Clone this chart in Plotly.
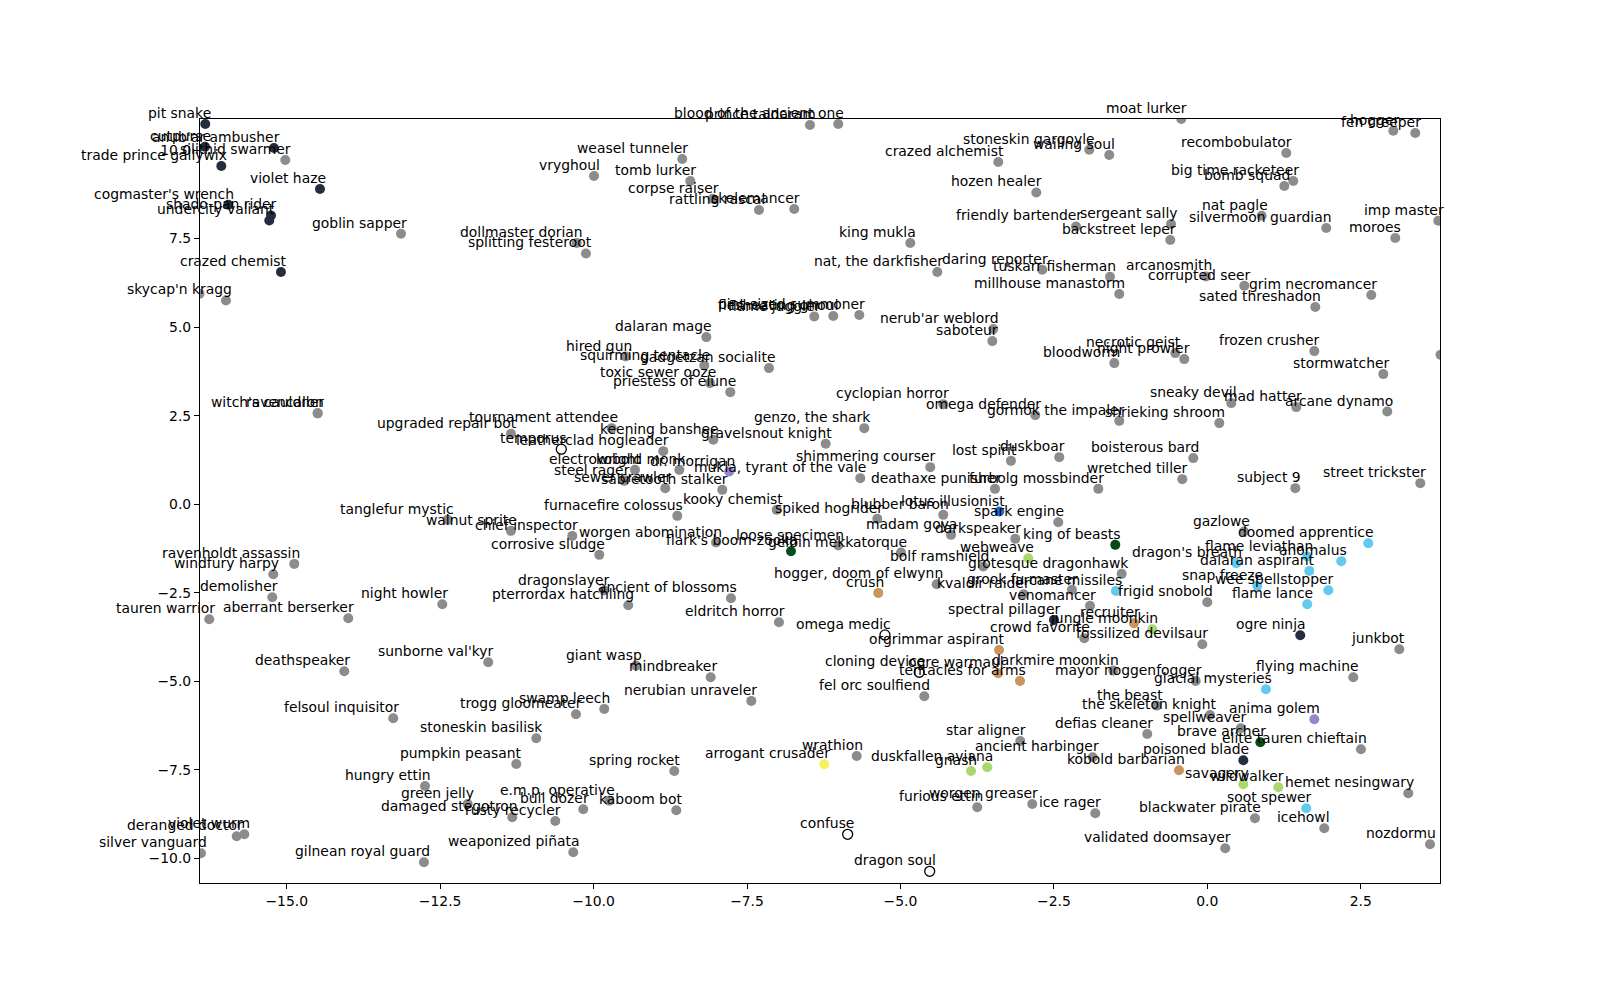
import plotly.graph_objects as go

card_names = [
    "pit snake", "cutpurse", "anub'ar ambusher", "silithid swarmer", "trade prince gallywix",
    "violet haze", "cogmaster's wrench", "shado-pan rider", "undercity valiant", "goblin sapper",
    "crazed chemist", "skycap'n kragg", "", "witch's cauldron", "ravencaller",
    "prince taldaram", "blood of the ancient one", "weasel tunneler", "vryghoul", "tomb lurker",
    "corpse raiser", "rattling rascal", "skelemancer", "dollmaster dorian", "splitting festeroot",
    "crazed alchemist", "stoneskin gargoyle", "wailing soul", "moat lurker", "recombobulator",
    "hogger", "fen creeper", "big time racketeer", "bomb squad", "hozen healer",
    "friendly bartender", "sergeant sally", "backstreet leper", "nat pagle", "silvermoon guardian",
    "imp master", "moroes", "king mukla", "nat, the darkfisher", "daring reporter",
    "tuskarr fisherman", "millhouse manastorm", "arcanosmith", "corrupted seer", "grim necromancer",
    "sated threshadon", "flame juggler", "flesheating ghoul", "pint-sized summoner", "nerub'ar weblord",
    "saboteur", "dalaran mage", "hired gun", "squirming tentacle", "gadgetzan socialite",
    "toxic sewer ooze", "priestess of elune", "necrotic geist", "night prowler", "bloodworm",
    "frozen crusher", "stormwatcher", "", "sneaky devil", "mad hatter",
    "arcane dynamo", "shrieking shroom", "cyclopian horror", "omega defender", "gormok the impaler",
    "genzo, the shark", "tournament attendee", "keening banshee", "gravelsnout knight", "upgraded repair bot",
    "temporus", "leatherclad hogleader", "electrowright", "kobold monk", "dr. morrigan",
    "mukla, tyrant of the vale", "steel rager", "sewer crawler", "sabretooth stalker", "shimmering courser",
    "lost spirit", "duskboar", "boisterous bard", "deathaxe punisher", "furbolg mossbinder",
    "wretched tiller", "subject 9", "street trickster", "tanglefur mystic", "walnut sprite",
    "chief inspector", "furnacefire colossus", "kooky chemist", "spiked hogrider", "blubber baron",
    "lotus illusionist", "spark engine", "madam goya", "darkspeaker", "king of beasts",
    "worgen abomination", "flark's boom-zooka", "loose specimen", "gelbin mekkatorque", "corrosive sludge",
    "bolf ramshield", "webweave", "grotesque dragonhawk", "gazlowe", "doomed apprentice",
    "flame leviathan", "anomalus", "dragon's breath", "dalaran aspirant", "snap freeze",
    "wee spellstopper", "flame lance", "frigid snobold", "arcane missiles", "grook fu master",
    "kvaldir raider", "venomancer", "hogger, doom of elwynn", "crush", "ravenholdt assassin",
    "windfury harpy", "demolisher", "tauren warrior", "aberrant berserker", "night howler",
    "dragonslayer", "pterrordax hatchling", "ancient of blossoms", "eldritch horror", "spectral pillager",
    "jungle moonkin", "recruiter", "omega medic", "crowd favorite", "fossilized devilsaur",
    "ogre ninja", "junkbot", "orgrimmar aspirant", "sunborne val'kyr", "giant wasp",
    "mindbreaker", "deathspeaker", "cloning device", "ogre warmaul", "tentacles for arms",
    "darkmire moonkin", "mayor noggenfogger", "flying machine", "glacial mysteries", "fel orc soulfiend",
    "nerubian unraveler", "swamp leech", "trogg gloomeater", "felsoul inquisitor", "stoneskin basilisk",
    "the beast", "the skeleton knight", "spellweaver", "anima golem", "defias cleaner",
    "brave archer", "elite tauren chieftain", "star aligner", "ancient harbinger", "pumpkin peasant",
    "wrathion", "arrogant crusader", "duskfallen aviana", "gnash", "spring rocket",
    "kobold barbarian", "poisoned blade", "savagery", "wildwalker", "hemet nesingwary",
    "hungry ettin", "green jelly", "e.m.p. operative", "bull dozer", "kaboom bot",
    "damaged stegotron", "rusty recycler", "furious ettin", "worgen greaser", "ice rager",
    "soot spewer", "blackwater pirate", "icehowl", "deranged doctor", "violet wurm",
    "silver vanguard", "confuse", "weaponized piñata", "validated doomsayer", "nozdormu",
    "gilnean royal guard", "dragon soul",
]

card_x = [
    -16.327, -16.332, -15.208, -15.023, -16.066,
    -14.458, -15.952, -15.256, -15.284, -13.138,
    -15.094, -15.990, -16.42, -14.496, -14.496,
    -6.474, -6.013, -8.555, -9.993, -8.424,
    -8.059, -7.305, -6.730, -10.275, -10.124,
    -3.406, -1.923, -1.597, -0.424, 1.287,
    3.031, 3.389, 1.401, 1.255, -2.786,
    -2.139, -0.591, -0.603, 0.886, 1.939,
    3.764, 3.063, -4.839, -4.399, -2.689,
    -1.585, -1.434, -0.021, 0.603, 2.672,
    1.760, -6.404, -6.094, -5.670, -3.487,
    -3.503, -8.163, -9.477, -8.196, -7.142,
    -8.103, -7.772, -0.521, -0.375, -1.515,
    1.744, 2.868, 3.80, 0.391, 1.450,
    2.933, 0.196, -4.302, -2.803, -1.434,
    -5.589, -9.705, -8.049, -6.218, -11.346,
    -10.526, -8.864, -9.325, -8.603, -7.789,
    -5.654, -9.500, -8.832, -7.903, -4.514,
    -3.199, -2.412, -0.228, -3.459, -1.776,
    -0.407, 1.434, 3.471, -12.377, -11.346,
    -10.347, -8.636, -7.016, -5.377, -4.302,
    -3.389, -2.428, -4.176, -3.129, -1.499,
    -8.005, -6.783, -6.013, -4.991, -9.907,
    -3.650, -2.917, -1.395, 0.598, 2.623,
    1.629, 2.183, 0.473, 1.662, 0.815,
    1.972, 1.629, 0.000, -1.488, -2.205,
    -2.992, -1.911, -4.409, -5.361, -14.877,
    -15.219, -15.235, -16.262, -13.997, -12.465,
    -9.826, -9.435, -7.761, -6.979, -2.498,
    -0.896, -1.194, -5.252, -2.004, -0.081,
    1.515, 3.129, -3.394, -11.716, -9.309,
    -8.092, -14.062, -4.693, -3.406, -3.052,
    -1.532, -0.189, 2.379, 0.956, -4.611,
    -7.430, -9.826, -10.287, -13.264, -10.934,
    -0.824, 0.044, 0.544, 1.744, -0.978,
    0.864, 2.504, -3.047, -1.867, -11.259,
    -5.713, -6.241, -3.585, -3.850, -8.685,
    -0.461, 0.587, 0.587, 1.157, 3.275,
    -12.747, -12.051, -9.744, -10.168, -8.652,
    -11.325, -10.624, -3.748, -2.852, -1.825,
    1.613, 0.777, 1.906, -15.815, -15.691,
    -16.397, -5.860, -10.331, 0.293, 3.629,
    -12.764, -4.523,
]

card_y = [
    10.736, 10.095, 10.058, 9.719, 9.550,
    8.900, 8.456, 8.154, 8.013, 7.637,
    6.555, 5.752, 5.942, 2.571, 2.563,
    10.708, 10.736, 9.748, 9.267, 9.126,
    8.626, 8.307, 8.335, 7.374, 7.080,
    9.663, 10.010, 9.861, 10.878, 9.917,
    10.547, 10.482, 9.126, 8.985, 8.804,
    7.843, 7.911, 7.459, 8.146, 7.798,
    8.004, 7.515, 7.374, 6.555, 6.620,
    6.422, 5.933, 6.431, 6.168, 5.905,
    5.566, 5.300, 5.312, 5.340, 4.944,
    4.605, 4.718, 4.170, 3.916, 3.842,
    3.419, 3.164, 4.266, 4.097, 3.984,
    4.323, 3.673, 4.218, 2.854, 2.741,
    2.616, 2.289, 2.825, 2.515, 2.353,
    2.147, 2.147, 1.817, 1.704, 1.986,
    1.554, 1.497, 0.969, 0.969, 0.921,
    0.735, 0.658, 0.452, 0.404, 1.045,
    1.223, 1.328, 1.300, 0.432, 0.432,
    0.706, 0.452, 0.593, -0.444, -0.754,
    -0.896, -0.331, -0.161, -0.415, -0.302,
    -0.209, -0.509, -0.867, -0.980, -1.150,
    -1.085, -1.328, -1.170, -1.367, -1.432,
    -1.763, -1.526, -1.969, -0.774, -1.102,
    -1.480, -1.610, -1.667, -1.885, -2.308,
    -2.430, -2.825, -2.769, -2.450, -2.421,
    -2.543, -2.873, -2.260, -2.506, -1.687,
    -1.978, -2.628, -3.249, -3.221, -2.825,
    -2.441, -2.854, -2.656, -3.334, -3.269,
    -3.532, -3.362, -3.693, -3.786, -3.955,
    -3.701, -4.097, -4.117, -4.464, -4.560,
    -4.888, -4.718, -4.747, -4.775, -4.992,
    -4.701, -4.992, -4.888, -5.227, -5.425,
    -5.557, -5.783, -5.933, -6.046, -6.611,
    -5.690, -5.953, -6.329, -6.074, -6.490,
    -6.724, -6.922, -6.688, -7.148, -7.337,
    -7.111, -7.346, -7.431, -7.535, -7.535,
    -7.515, -7.233, -7.911, -7.996, -8.165,
    -7.959, -8.468, -8.374, -8.617, -8.646,
    -8.843, -8.948, -8.561, -8.468, -8.730,
    -8.589, -8.872, -9.154, -9.380, -9.324,
    -9.861, -9.324, -9.832, -9.719, -9.606,
    -10.115, -10.369,
]

card_group = [
    "rogue", "rogue", "rogue", "neutral", "rogue",
    "rogue", "rogue", "rogue", "rogue", "neutral",
    "rogue", "neutral", "neutral", "neutral", "neutral",
    "neutral", "neutral", "neutral", "neutral", "neutral",
    "neutral", "neutral", "neutral", "neutral", "neutral",
    "neutral", "neutral", "neutral", "neutral", "neutral",
    "neutral", "neutral", "neutral", "neutral", "neutral",
    "neutral", "neutral", "neutral", "neutral", "neutral",
    "neutral", "neutral", "neutral", "neutral", "neutral",
    "neutral", "neutral", "neutral", "neutral", "neutral",
    "neutral", "neutral", "neutral", "neutral", "neutral",
    "neutral", "neutral", "neutral", "neutral", "neutral",
    "neutral", "neutral", "neutral", "neutral", "neutral",
    "neutral", "neutral", "neutral", "neutral", "neutral",
    "neutral", "neutral", "neutral", "neutral", "neutral",
    "neutral", "neutral", "neutral", "neutral", "neutral",
    "spell", "neutral", "neutral", "neutral", "warlock",
    "neutral", "neutral", "neutral", "neutral", "neutral",
    "neutral", "neutral", "neutral", "neutral", "neutral",
    "neutral", "neutral", "neutral", "neutral", "neutral",
    "neutral", "neutral", "neutral", "neutral", "neutral",
    "shaman", "neutral", "neutral", "neutral", "hunter",
    "neutral", "hunter", "neutral", "neutral", "neutral",
    "neutral", "druid", "neutral", "neutral", "mage",
    "mage", "mage", "mage", "mage", "mage",
    "mage", "mage", "neutral", "mage", "neutral",
    "neutral", "neutral", "neutral", "warrior", "neutral",
    "neutral", "neutral", "neutral", "neutral", "neutral",
    "neutral", "neutral", "neutral", "neutral", "rogue",
    "druid", "warrior", "spell", "neutral", "neutral",
    "rogue", "neutral", "warrior", "neutral", "neutral",
    "neutral", "neutral", "spell", "warrior", "warrior",
    "neutral", "neutral", "neutral", "mage", "neutral",
    "neutral", "neutral", "neutral", "neutral", "neutral",
    "neutral", "neutral", "neutral", "warlock", "neutral",
    "hunter", "neutral", "neutral", "neutral", "neutral",
    "neutral", "paladin", "druid", "druid", "neutral",
    "warrior", "rogue", "druid", "druid", "neutral",
    "neutral", "neutral", "neutral", "neutral", "neutral",
    "neutral", "neutral", "neutral", "neutral", "neutral",
    "mage", "neutral", "neutral", "neutral", "neutral",
    "neutral", "spell", "neutral", "neutral", "neutral",
    "neutral", "spell",
]

x_ticks = [-15.0, -12.5, -10.0, -7.5, -5.0, -2.5, 0.0, 2.5]
y_ticks = [-10.0, -7.5, -5.0, -2.5, 0.0, 2.5, 5.0, 7.5, 10.0]

group_style = {
    "neutral": dict(color="#8c8c8c", line=dict(width=0)),
    "rogue": dict(color="#262d3f", line=dict(width=0)),
    "mage": dict(color="#62c9ef", line=dict(width=0)),
    "hunter": dict(color="#044d17", line=dict(width=0)),
    "druid": dict(color="#a9d86e", line=dict(width=0)),
    "warrior": dict(color="#c8955f", line=dict(width=0)),
    "warlock": dict(color="#9686d0", line=dict(width=0)),
    "paladin": dict(color="#f6f15a", line=dict(width=0)),
    "shaman": dict(color="#1b6ed6", line=dict(width=0)),
    "spell": dict(color="#ffffff", line=dict(width=1.3, color="#000000")),
}

FONT = "DejaVu Sans, Verdana, sans-serif"
fig = go.Figure()

for grp, style in group_style.items():
    idx = [i for i, g in enumerate(card_group) if g == grp]
    if not idx:
        continue
    fig.add_trace(go.Scatter(
        x=[card_x[i] for i in idx],
        y=[card_y[i] for i in idx],
        mode="markers",
        marker=dict(size=10, **style),
        hoverinfo="text",
        text=[card_names[i] for i in idx],
        cliponaxis=True,
        showlegend=False,
    ))

annotations = []
for name, xv, yv in zip(card_names, card_x, card_y):
    if not name:
        continue
    annotations.append(dict(
        x=xv, y=yv, xref="x", yref="y", text=name, showarrow=False,
        xanchor="right", yanchor="bottom", xshift=7, yshift=2,
        font=dict(family=FONT, size=13.9, color="#000000"),
        borderpad=0,
    ))

# the page body adds an 8px offset; margins compensate so the axes box sits
# at x 200-1440, y 119-883 in the screenshot
fig.update_layout(
    width=1600, height=993, autosize=False,
    margin=dict(l=192, r=168, t=111, b=118),
    paper_bgcolor="#ffffff", plot_bgcolor="#ffffff",
    font=dict(family=FONT, size=13.9, color="#000000"),
    annotations=annotations,
    showlegend=False,
)
axis_common = dict(
    showgrid=False, zeroline=False, showline=True, mirror=True,
    linecolor="#000000", linewidth=1.1, ticks="outside", ticklen=5,
    tickwidth=1.1, tickcolor="#000000", tickformat=".1f",
    tickfont=dict(family=FONT, size=13.9, color="#000000"),
)
fig.update_xaxes(range=[-16.413, 3.792], tickvals=x_ticks, **axis_common)
fig.update_yaxes(range=[-10.70, 10.878], tickvals=y_ticks, **axis_common)

fig.write_html("out.html")
